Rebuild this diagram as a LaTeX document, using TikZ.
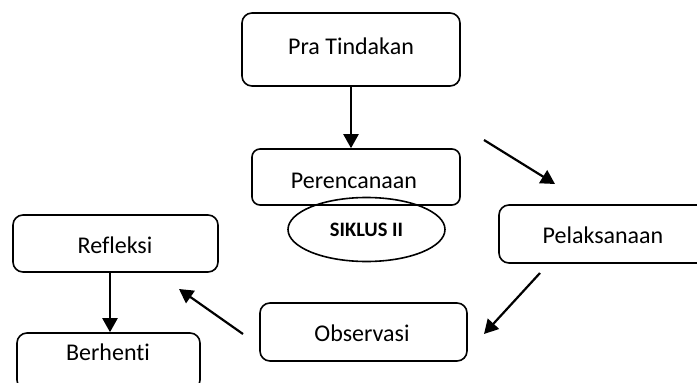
\documentclass[tikz,border=0pt]{standalone}
\usepackage{fontspec}
\setmainfont{Carlito}[Ligatures={NoCommon,NoRequired,NoContextual}]
\usetikzlibrary{arrows.meta,shapes.geometric}
\begin{document}
\begin{tikzpicture}[x=1pt,y=-1pt,
  box/.style={draw,line width=1.6pt,rounded corners=10pt,inner sep=0pt},
  txt/.style={font=\fontsize{24}{28}\selectfont,inner sep=0pt},
  arr/.style={line width=2.2pt,-{Triangle[length=14pt,width=15pt]}}]
\clip (0,0) rectangle (697,383);
\fill[white] (0,0) rectangle (697,383);
% boxes
\node[box,minimum width=218pt,minimum height=73pt] (pra) at (351,49.5) {};
\node[txt] at (351,46) {Pra Tindakan};
\node[box,minimum width=208pt,minimum height=56pt,rounded corners=8pt] (per) at (356,177) {};
\node[txt] at (354,181) {Perencanaan};
\node[draw,ellipse,line width=1.6pt,minimum width=157pt,minimum height=64pt,inner sep=0pt,
  font=\fontsize{20.5}{24}\selectfont\bfseries] (sik) at (366.5,229.5) {SIKLUS II};
\node[box,minimum width=208pt,minimum height=58pt] (pel) at (603,234) {};
\node[txt] at (603,235) {Pelaksanaan};
\node[box,minimum width=207pt,minimum height=58pt] (obs) at (363.5,332) {};
\node[txt] at (362,333) {Observasi};
\node[box,minimum width=205pt,minimum height=57pt] (ref) at (115.5,243.5) {};
\node[txt] at (115,245) {Refleksi};
\node[box,minimum width=183pt,minimum height=57pt] (ber) at (108.5,361.5) {};
\node[txt] at (108,352) {Berhenti};
% free arrow ends
\coordinate (a1s) at (484,140);
\coordinate (a1e) at (555,184);
\coordinate (a2s) at (540,273);
\coordinate (a2e) at (484,334);
\coordinate (a3s) at (243,334);
\coordinate (a3e) at (179,289);
% connectors
\draw[arr] (pra.south) -- (per.north -| pra.south);
\draw[arr] (a1s) -- (a1e);
\draw[arr] (a2s) -- (a2e);
\draw[arr] (a3s) -- (a3e);
\draw[arr] (ref.south -| 110,0) -- (ber.north -| 110,0);
\end{tikzpicture}
\end{document}
